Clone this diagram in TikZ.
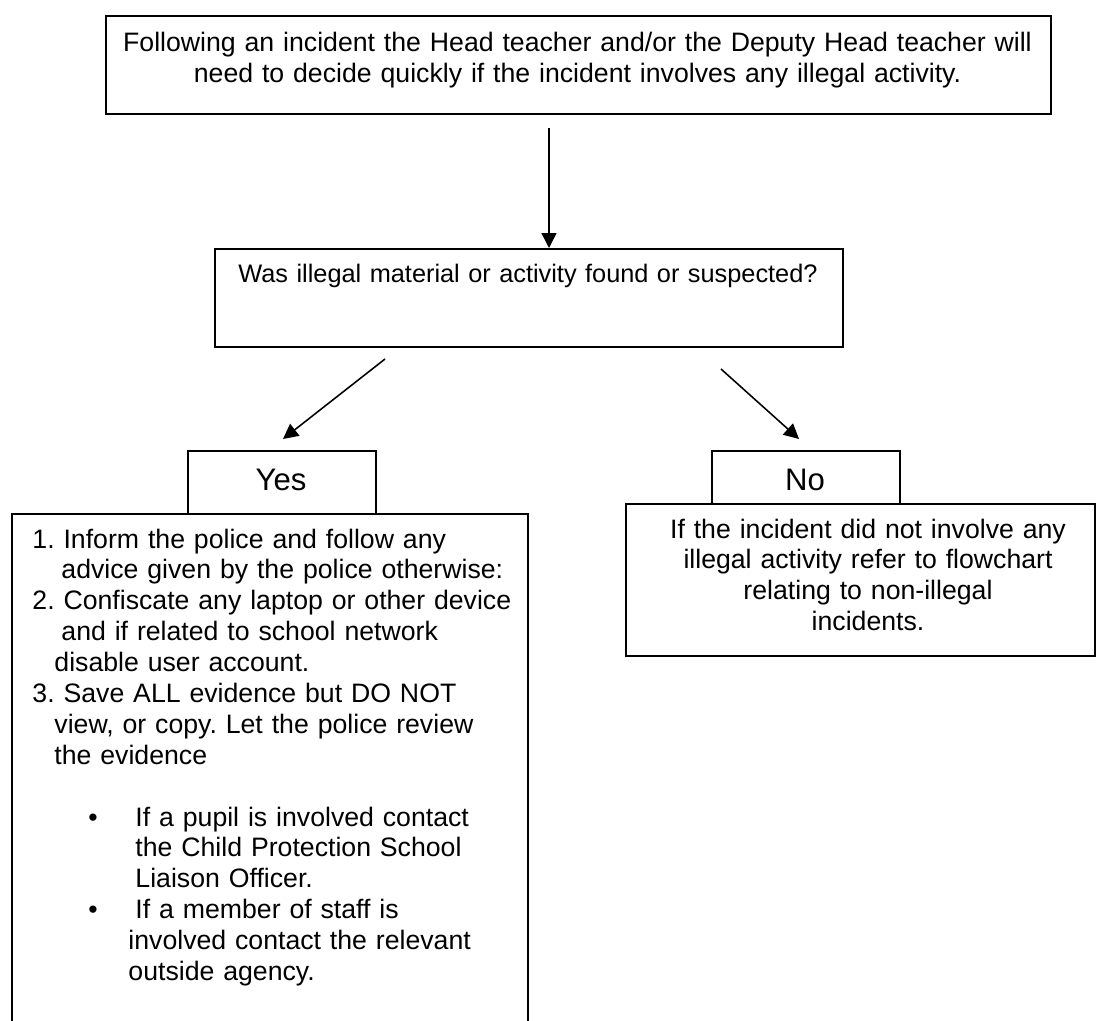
\documentclass[tikz,border=0pt]{standalone}
\usepackage{fontspec}
\setmainfont{Liberation Sans}
\usepackage{tikz}
\usetikzlibrary{positioning,arrows.meta}
\frenchspacing

\begin{document}
\begin{tikzpicture}[x=0.45pt, y=-0.45pt,
    box/.style={draw, rectangle, line width=0.7pt, inner sep=0pt, anchor=north west},
    txt/.style={inner sep=0pt, anchor=base, align=center, font=\fontsize{12pt}{13.9pt}\selectfont},
    answer/.style={inner sep=0pt, anchor=base, font=\fontsize{14pt}{16pt}\selectfont},
    flow/.style={-{Triangle[length=6.75pt,width=6.75pt]}, line width=0.7pt}]
    \useasboundingbox (0,0) rectangle (1096,1020);
    \clip (0,0) rectangle (1096,1020);

    %incident
    \node[box, minimum width=425.25pt, minimum height=44.1pt] (incident) at (105,15) {};
    \node[txt, text width=420pt] (incidentText) at (577.5,52)
        {Following an incident the Head teacher and/or the Deputy Head teacher will\\
         need to decide quickly if the incident involves any illegal activity.};

    %question
    \node[box, minimum width=282.6pt, minimum height=44.1pt] (question) at (214,248) {};
    \node[txt, text width=280pt, font=\fontsize{11.4pt}{13.7pt}\selectfont] (questionText) at (528,282)
        {Was illegal material or activity found or suspected?};

    \coordinate (downFrom) at (549,128);
    \coordinate (downTo) at (549,248);
    \draw[flow] (downFrom) -- (downTo);

    %yes / no
    \coordinate (yesFrom) at (385,359);
    \coordinate (yesTo) at (283,439);
    \coordinate (noFrom) at (721,369);
    \coordinate (noTo) at (799,439);
    \draw[flow] (yesFrom) -- (yesTo);
    \draw[flow] (noFrom) -- (noTo);

    \node[box, minimum width=84.6pt, minimum height=28.35pt] (yes) at (187,450) {};
    \node[answer] (yesText) at (281,490) {Yes};
    \node[box, minimum width=84.6pt, minimum height=23.85pt] (no) at (711,450) {};
    \node[answer] (noText) at (805,490) {No};

    %illegal
    \node[box, minimum width=232.2pt, minimum height=238.5pt] (illegal) at (11,513) {};
    \node[txt, anchor=base west, align=left, text width=228pt] (illegalText) at (32,548)
        {1. Inform the police and follow any\\
         \hspace*{13.05pt}advice given by the police otherwise:\\
         2. Confiscate any laptop or other device\\
         \hspace*{13.05pt}and if related to school network\\
         \hspace*{9.9pt}disable user account.\\
         3. Save ALL evidence but DO NOT\\
         \hspace*{9.9pt}view, or copy. Let the police review\\
         \hspace*{9.9pt}the evidence\\[13.9pt]
         \hspace*{25.2pt}\makebox[21.15pt][l]{•}If a pupil is involved contact\\
         \hspace*{46.35pt}the Child Protection School\\
         \hspace*{46.35pt}Liaison Officer.\\
         \hspace*{25.2pt}\makebox[21.15pt][l]{•}If a member of staff is\\
         \hspace*{43.2pt}involved contact the relevant\\
         \hspace*{43.2pt}outside agency.};

    %not illegal
    \node[box, minimum width=211.05pt, minimum height=68.4pt] (legal) at (625,503) {};
    \node[txt, text width=205pt] (legalText) at (868,538)
        {If the incident did not involve any\\
         illegal activity refer to flowchart\\
         relating to non-illegal\\
         incidents.};

\end{tikzpicture}
\end{document}
